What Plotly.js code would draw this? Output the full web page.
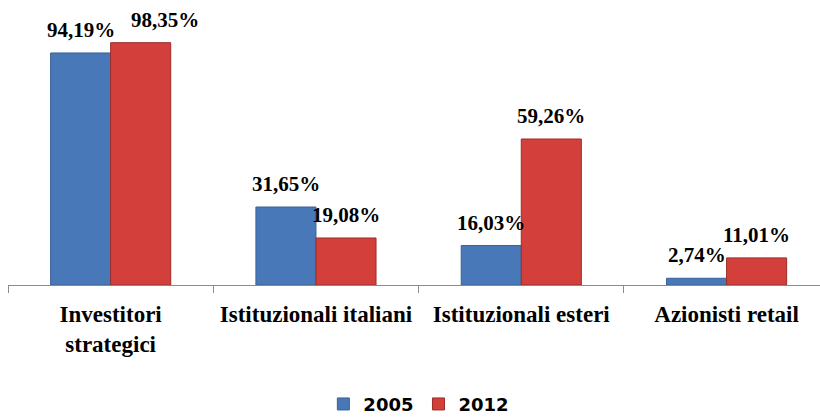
<!DOCTYPE html>
<html>
<head>
<meta charset="utf-8">
<script src="https://cdn.plot.ly/plotly-3.0.1.min.js"></script>
<style>
  html, body { margin: 0; padding: 0; background: #fff; }
  #chart { width: 820px; height: 417px; }
</style>
</head>
<body>
<div id="chart"></div>
<script>
// ---- data ----
const categories = ["Investitori<br>strategici", "Istituzionali italiani", "Istituzionali esteri", "Azionisti retail"];
const seriesNames = ["2005", "2012"];
const values2005 = [94.19, 31.65, 16.03, 2.74];
const values2012 = [98.35, 19.08, 59.26, 11.01];

// ---- styling ----
const blue = "#4878b8", blueLine = "#3a6296";
const red = "#d3403c", redLine = "#9a2d2a";
const bargap = 0.415;
const barW = (1 - bargap) / 2;
// per-label horizontal nudges in px (style only)
const shift2005 = [0, 0, 0, 0];
const shift2012 = [24, 0, 0, 0];

const fmt = v => v.toFixed(2).replace(".", ",") + "%";
const serif = "'Liberation Serif', 'Times New Roman', Times, serif";

const traces = [
  { type: "bar", name: seriesNames[0], x: categories, y: values2005,
    marker: { color: blue, line: { color: blueLine, width: 1 } }, hoverinfo: "none" },
  { type: "bar", name: seriesNames[1], x: categories, y: values2012,
    marker: { color: red, line: { color: redLine, width: 1 } }, hoverinfo: "none" }
];

const annFont = { family: serif, size: 21, color: "#000", weight: "bold" };
const annotations = [];
[[values2005, -barW / 2, shift2005], [values2012, barW / 2, shift2012]].forEach(([vals, off, sh]) => {
  vals.forEach((v, i) => {
    annotations.push({
      x: i + off, y: v, xref: "x", yref: "y",
      text: fmt(v), showarrow: false,
      yanchor: "middle", xanchor: "center", yshift: 23, xshift: sh[i],
      font: annFont
    });
  });
});

const layout = {
  width: 820, height: 417,
  margin: { l: 8, r: 0, t: 14, b: 132, autoexpand: false },
  paper_bgcolor: "#fff", plot_bgcolor: "#fff",
  barmode: "group", bargap: bargap, bargroupgap: 0,
  xaxis: {
    type: "category", range: [-0.5, 3.455], automargin: false,
    showline: true, linecolor: "#8c8c8c", linewidth: 1,
    ticks: "outside", tickson: "boundaries", ticklen: 7, tickcolor: "#8c8c8c",
    ticklabelstandoff: 8,
    showgrid: false, zeroline: false, fixedrange: true,
    tickfont: { family: serif, size: 23, color: "#000", weight: "bold" }
  },
  yaxis: { range: [0, 110], visible: false, showgrid: false, zeroline: false, fixedrange: true },
  showlegend: true,
  legend: {
    orientation: "h", x: 0.506, xanchor: "center", y: -0.44, yanchor: "middle",
    font: { family: "'DejaVu Sans', sans-serif", size: 18, color: "#000", weight: "bold" },
    itemclick: false, itemdoubleclick: false
  },
  annotations: annotations
};

Plotly.newPlot("chart", traces, layout, { displayModeBar: false, staticPlot: true });
</script>
</body>
</html>
